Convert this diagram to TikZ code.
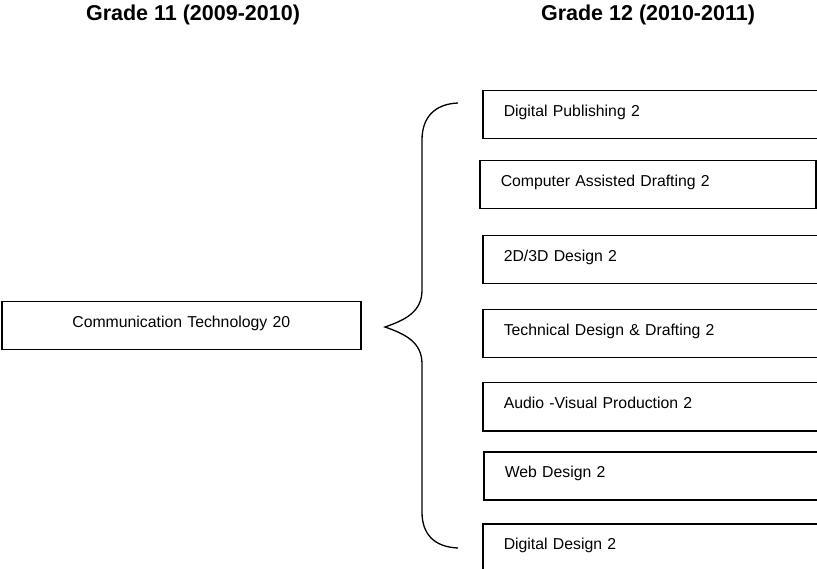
\documentclass[tikz,border=0pt]{standalone}
\usepackage{fontspec}
\setmainfont{Liberation Sans}
\begin{document}
\begin{tikzpicture}[x=1pt, y=-1pt,
    course/.style={draw, line width=1.5pt, anchor=north west, minimum height=48pt,
      inner xsep=21pt, inner ysep=0pt, text height=12pt, text depth=8pt,
      align=left, font=\fontsize{15.8}{19}\selectfont},
    grade/.style={font=\fontsize{21.5}{26}\selectfont\bfseries}]
    \useasboundingbox (0,0) rectangle (817,569);
    \clip (0,0) rectangle (817,569);
    % Headings
    \node[grade] (g11) at (193,15) {Grade 11 (2009-2010)};
    \node[grade] (g12) at (648,15) {Grade 12 (2010-2011)};
    % Grade 11 course
    \node[course, align=center, text width=317pt] (ct20) at (1,301) {Communication Technology 20};
    % Grade 12 courses
    \node[course, text width=326pt] (dp2) at (482,90) {Digital Publishing 2};
    \node[course, text width=294pt] (cad2) at (479,160) {Computer Assisted Drafting 2};
    \node[course, text width=326pt] (dd3d2) at (482,235) {2D/3D Design 2};
    \node[course, text width=326pt] (tdd2) at (482,309) {Technical Design \& Drafting 2};
    \node[course, text width=326pt] (avp2) at (482,382) {Audio -Visual Production 2};
    \node[course, text width=326pt] (web2) at (483,451) {Web Design 2};
    \node[course, text width=326pt] (dig2) at (482,523) {Digital Design 2};
    % Brace
    \draw[line width=1.3pt] (458,103) .. controls (434,104) and (422,118) .. (422,140)
        -- (422,290) .. controls (422,312) and (405,320) .. (385,327)
        .. controls (405,334) and (422,342) .. (422,364)
        -- (422,512) .. controls (422,534) and (434,547) .. (458,548);
\end{tikzpicture}
\end{document}
